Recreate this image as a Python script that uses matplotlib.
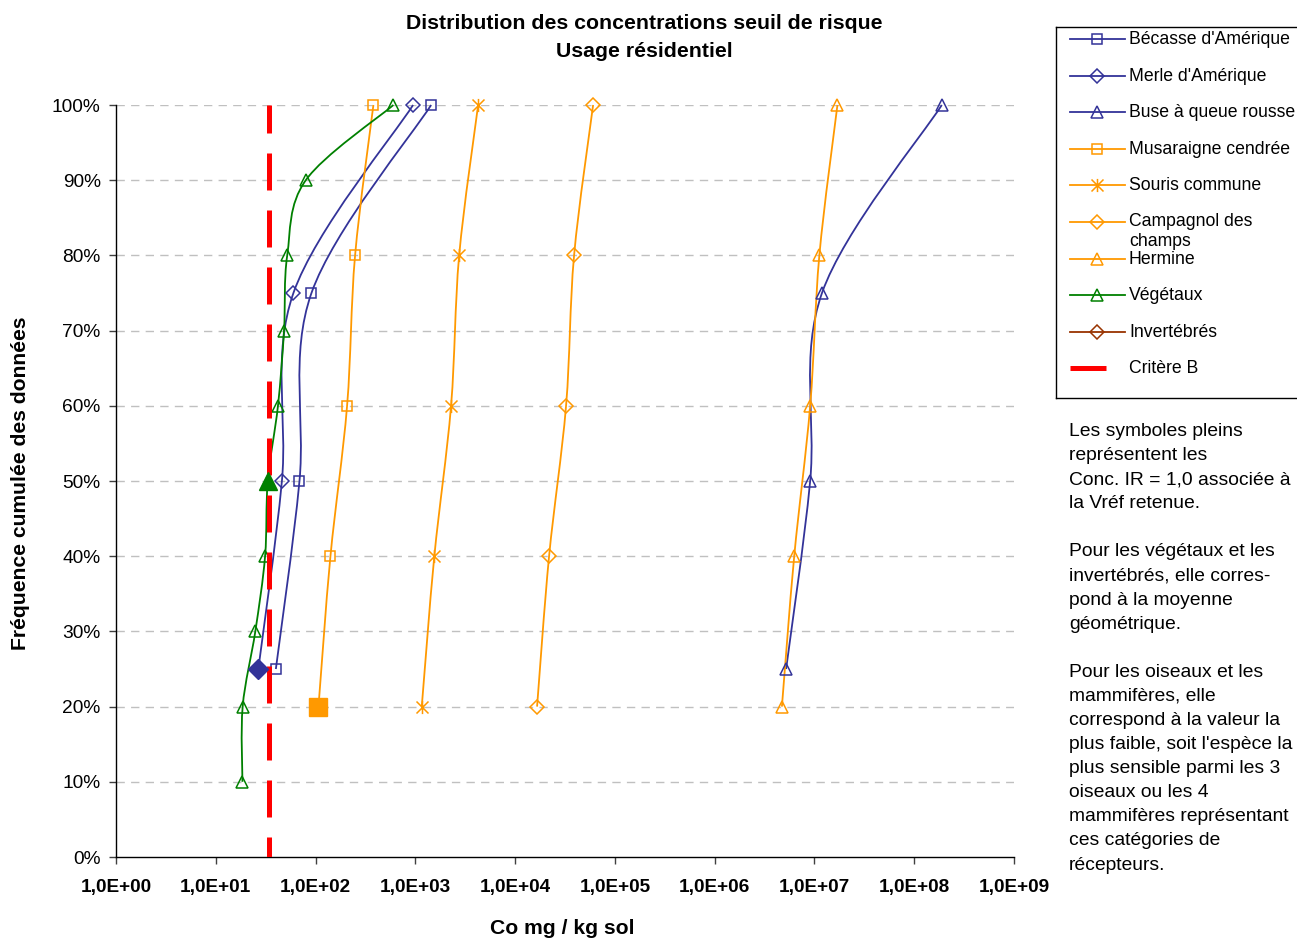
#!/usr/bin/env python3
"""
Cumulative distribution of risk threshold concentrations (residential use)
for the receptor species, with the Critère B reference line.
"""

import numpy as np
import matplotlib
matplotlib.use('Agg')
import matplotlib.pyplot as plt
from matplotlib.path import Path
from matplotlib.patches import PathPatch
from matplotlib.ticker import FixedLocator, FuncFormatter, NullLocator

plt.rcParams['font.family'] = ['Liberation Sans', 'DejaVu Sans']

# Cumulative frequency (%) and concentration (mg/kg sol) for each receptor
becasse_freq = [25, 50, 75, 100]
becasse_conc = [40, 69, 91, 1440]

merle_freq = [25, 50, 75, 100]
merle_conc = [26.7, 46, 60, 949]

buse_freq = [25, 50, 75, 100]
buse_conc = [5.2e6, 9.06e6, 1.19e7, 1.89e8]

mammal_freq = [20, 40, 60, 80, 100]
musaraigne_conc = [107, 141, 207, 249, 380]
souris_conc = [1160, 1550, 2280, 2750, 4260]
campagnol_conc = [16600, 21900, 32400, 39000, 60500]
hermine_conc = [4.72e6, 6.27e6, 9.06e6, 1.12e7, 1.70e7]

vegetaux_freq = [10, 20, 30, 40, 50, 60, 70, 80, 90, 100]
vegetaux_conc = [18.5, 18.6, 24.9, 31.2, 33.2, 42, 48.3, 52, 79.8, 603]

invertebres_freq = []
invertebres_conc = []

critere_b = 34.4

# Conc. IR = 1,0 for the retained Vréf (filled symbols)
vref_oiseaux = (merle_conc[0], merle_freq[0])
vref_mammiferes = (musaraigne_conc[0], mammal_freq[0])
vref_vegetaux = (vegetaux_conc[4], vegetaux_freq[4])

x_ticks = [10.0 ** k for k in range(0, 10)]
y_ticks = list(range(0, 101, 10))

NAVY = '#333399'
ORANGE = '#FF9900'
GREEN = '#008000'
BROWN = '#993300'
RED = '#FF0000'

# Excel-like star marker: an X with a vertical bar
STAR = Path([(-1, -1), (1, 1), (-1, 1), (1, -1), (0, -1.1), (0, 1.1)],
            [Path.MOVETO, Path.LINETO, Path.MOVETO, Path.LINETO,
             Path.MOVETO, Path.LINETO])

series = [
    ("Bécasse d'Amérique", becasse_conc, becasse_freq, NAVY, 's', 7.5),
    ("Merle d'Amérique", merle_conc, merle_freq, NAVY, 'D', 6.8),
    ("Buse à queue rousse", buse_conc, buse_freq, NAVY, '^', 8.5),
    ("Musaraigne cendrée", musaraigne_conc, mammal_freq, ORANGE, 's', 7.5),
    ("Souris commune", souris_conc, mammal_freq, ORANGE, STAR, 9.5),
    ("Campagnol des\nchamps", campagnol_conc, mammal_freq, ORANGE, 'D', 6.8),
    ("Hermine", hermine_conc, mammal_freq, ORANGE, '^', 8.5),
    ("Végétaux", vegetaux_conc, vegetaux_freq, GREEN, '^', 8.5),
    ("Invertébrés", invertebres_conc, invertebres_freq, BROWN, 'D', 6.8),
]


def smooth_path(conc, freq):
    """Bezier path through the points, smoothed in log-x space"""
    pts = np.column_stack([np.log10(conc), np.asarray(freq, float)])
    n = len(pts)
    verts = [pts[0]]
    codes = [Path.MOVETO]
    for i in range(n - 1):
        p0 = pts[max(i - 1, 0)]
        p1 = pts[i]
        p2 = pts[i + 1]
        p3 = pts[min(i + 2, n - 1)]
        verts += [p1 + (p2 - p0) / 6.0, p2 - (p3 - p1) / 6.0, p2]
        codes += [Path.CURVE4] * 3
    verts = np.array(verts)
    verts[:, 0] = 10.0 ** verts[:, 0]
    return Path(verts, codes)


fig = plt.figure(figsize=(12.97, 9.39), dpi=100)
W, H = 1297.0, 939.0
ax = fig.add_axes([116 / W, 1 - 857 / H, 898 / W, 752 / H])

ax.set_xscale('log')
ax.set_xlim(1, 1e9)
ax.set_ylim(0, 100)

for y in y_ticks[1:]:
    ax.axhline(y, color='#C0C0C0', lw=1.0, dashes=(6, 4.5), zorder=1)

for label, conc, freq, color, marker, ms in series:
    if len(conc) == 0:
        continue
    ax.add_patch(PathPatch(smooth_path(conc, freq), fill=False, edgecolor=color,
                           lw=1.3, zorder=3, clip_on=False))
    ax.plot(conc, freq, linestyle='none', marker=marker, ms=ms, mfc='none',
            mec=color, mew=1.1, zorder=4, clip_on=False)

ax.plot([critere_b, critere_b], [100, 0], color=RED, lw=3.6, solid_capstyle='butt',
        dash_capstyle='butt', linestyle=(1.8, (7.4, 4.0)), zorder=5)

ax.plot(*vref_oiseaux, marker='D', ms=10, color=NAVY, zorder=6)
ax.plot(*vref_mammiferes, marker='s', ms=13.5, color=ORANGE, zorder=6)
ax.plot(*vref_vegetaux, marker='^', ms=13, color=GREEN, zorder=6)

# Axes styling
for side in ('top', 'right'):
    ax.spines[side].set_visible(False)
for side in ('left', 'bottom'):
    ax.spines[side].set_color('black')
    ax.spines[side].set_linewidth(1.0)

ax.xaxis.set_major_locator(FixedLocator(x_ticks))
ax.xaxis.set_minor_locator(NullLocator())
ax.xaxis.set_major_formatter(FuncFormatter(
    lambda v, pos: '1,0E+{:02d}'.format(int(round(np.log10(v))))))
ax.yaxis.set_major_locator(FixedLocator(y_ticks))
ax.yaxis.set_major_formatter(FuncFormatter(lambda v, pos: '{:d}%'.format(int(v))))

ax.tick_params(axis='x', direction='out', length=5, width=1, color='#404040',
               labelsize=13.7, pad=11)
ax.tick_params(axis='y', direction='out', length=5, width=1, color='#404040',
               labelsize=13.8, pad=6)
for lbl in ax.get_xticklabels():
    lbl.set_fontweight('bold')

ax.set_xlabel('Co mg / kg sol', fontsize=15.2, fontweight='bold')
ax.xaxis.set_label_coords(0.497, -(928 - 857) / 752.0)
ax.xaxis.label.set_va('center')
ax.set_ylabel('Fréquence cumulée des données', fontsize=15.2, fontweight='bold')
ax.yaxis.set_label_coords(-(116 - 20) / 898.0, 0.497)
ax.yaxis.label.set_va('center')

fig.suptitle('Distribution des concentrations seuil de risque\nUsage résidentiel',
             x=644 / W, y=1 - 37.5 / H, va='center', fontsize=15.3,
             fontweight='bold', linespacing=1.55)

# Legend drawn in its own pixel-like frame
lg = fig.add_axes([1056 / W, 1 - 398 / H, 260 / W, 371 / H])
lg.set_xlim(1056, 1316)
lg.set_ylim(398, 27)
lg.set_xticks([])
lg.set_yticks([])
for side in lg.spines.values():
    side.set_color('black')
    side.set_linewidth(1.0)

row = 36.6
for i, (label, conc, freq, color, marker, ms) in enumerate(series):
    yy = 39 + i * row
    lg.plot([1070, 1125], [yy, yy], color=color, lw=1.3)
    lg.plot([1097], [yy], marker=marker, ms=ms, mfc='none', mec=color, mew=1.1)
    if '\n' in label:
        lg.text(1129, yy - 9.5, label, ha='left', va='top', fontsize=12.7,
                linespacing=1.3)
    else:
        lg.text(1129, yy + 0.5, label, ha='left', va='center', fontsize=12.7)

yy = 39 + len(series) * row
lg.plot([1070, 1106], [yy, yy], color=RED, lw=3.6, solid_capstyle='butt')
lg.text(1129, yy + 0.5, 'Critère B', ha='left', va='center', fontsize=12.7)

note = ("Les symboles pleins\n"
        "représentent les\n"
        "Conc. IR = 1,0 associée à\n"
        "la Vréf retenue.\n"
        "\n"
        "Pour les végétaux et les\n"
        "invertébrés, elle corres-\n"
        "pond à la moyenne\n"
        "géométrique.\n"
        "\n"
        "Pour les oiseaux et les\n"
        "mammifères, elle\n"
        "correspond à la valeur la\n"
        "plus faible, soit l'espèce la\n"
        "plus sensible parmi les 3\n"
        "oiseaux ou les 4\n"
        "mammifères représentant\n"
        "ces catégories de\n"
        "récepteurs.")
fig.text(1069 / W, 1 - 423 / H, note, ha='left', va='top', fontsize=13.9,
         linespacing=1.545)

fig.savefig('out.png', dpi=100)
